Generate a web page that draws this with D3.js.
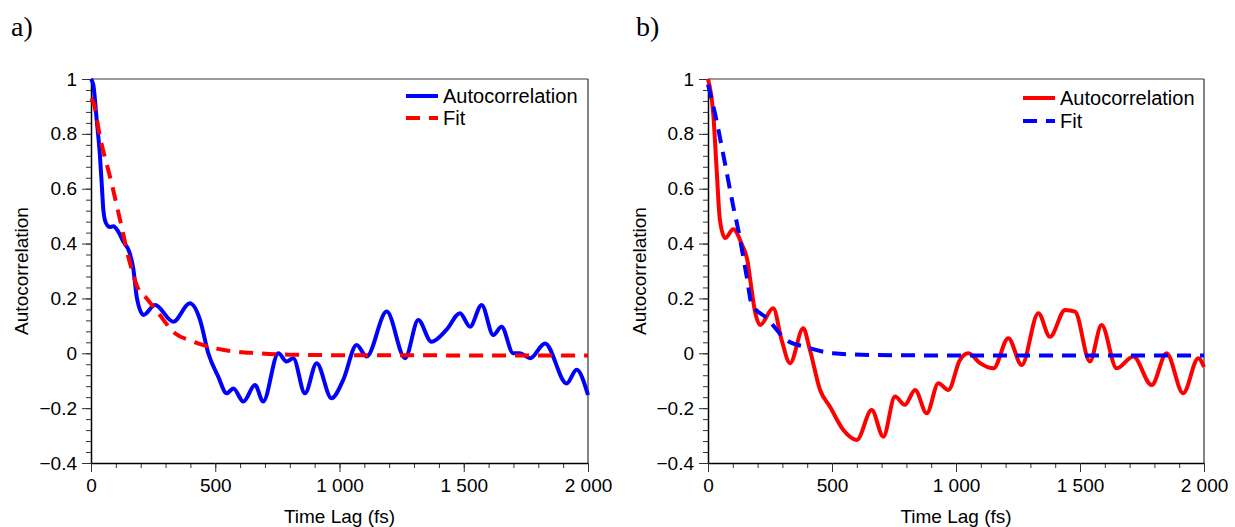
<!DOCTYPE html>
<html>
<head>
<meta charset="utf-8">
<script src="https://cdn.jsdelivr.net/npm/d3@7"></script>
<style>
  html, body { margin: 0; padding: 0; background: #fff; }
  svg { display: block; font-family: "Liberation Sans", Arial, sans-serif; }
</style>
</head>
<body>
<svg id="chart" width="1235" height="527"></svg>
<script>
// ---------- data ----------
const timeA = [0, 9, 23, 36, 43, 50, 60, 76, 90, 110, 130, 154, 170, 185, 211, 258, 331, 398, 439, 472, 512, 546, 573, 613, 660, 693, 754, 787, 814, 861, 908, 968, 1015, 1069, 1109, 1190, 1264, 1317, 1370, 1430, 1485, 1525, 1572, 1619, 1652, 1699, 1726, 1767, 1827, 1914, 1954, 2000];
const autoA = [1.0, 0.98, 0.85, 0.72, 0.62, 0.52, 0.475, 0.46, 0.463, 0.443, 0.407, 0.37, 0.31, 0.2, 0.14, 0.176, 0.115, 0.182, 0.121, 0.0, -0.085, -0.146, -0.128, -0.176, -0.116, -0.176, 0.0, -0.03, -0.018, -0.146, -0.036, -0.164, -0.097, 0.03, -0.012, 0.152, -0.018, 0.121, 0.042, 0.085, 0.146, 0.097, 0.176, 0.067, 0.097, 0.0, 0.0, -0.018, 0.036, -0.11, -0.06, -0.152];
const fitTimeA = [0, 9, 36, 83, 117, 157, 190, 224, 271, 338, 405, 512, 673, 800, 1000, 2000];
const fitA = [0.93, 0.917, 0.79, 0.62, 0.486, 0.328, 0.235, 0.2, 0.146, 0.073, 0.045, 0.016, 0.0, -0.005, -0.007, -0.008];

const timeB = [0, 21, 35, 48, 69, 102, 135, 161, 170, 190, 210, 263, 297, 331, 384, 411, 452, 492, 546, 600, 660, 707, 754, 794, 835, 882, 929, 969, 1016, 1050, 1097, 1151, 1211, 1265, 1332, 1379, 1440, 1480, 1540, 1587, 1648, 1715, 1789, 1849, 1916, 1977, 2000];
const autoB = [1.0, 0.875, 0.668, 0.486, 0.42, 0.452, 0.40, 0.328, 0.27, 0.15, 0.103, 0.164, 0.048, -0.036, 0.091, 0.012, -0.134, -0.195, -0.28, -0.316, -0.207, -0.304, -0.158, -0.188, -0.134, -0.219, -0.109, -0.134, -0.024, 0.0, -0.036, -0.055, 0.055, -0.043, 0.146, 0.06, 0.158, 0.152, -0.03, 0.103, -0.055, -0.012, -0.116, 0.0, -0.146, -0.018, -0.05];
const fitTimeB = [0, 28, 69, 102, 122, 156, 176, 237, 317, 398, 505, 653, 1000, 2000];
const fitB = [0.98, 0.875, 0.69, 0.535, 0.45, 0.28, 0.18, 0.128, 0.048, 0.022, 0.0, -0.006, -0.008, -0.008];

const xTicks = [0, 500, 1000, 1500, 2000];
const xTickLabels = ["0", "500", "1 000", "1 500", "2 000"];
const yTicks = [-0.4, -0.2, 0, 0.2, 0.4, 0.6, 0.8, 1];
const yTickLabels = ["\u22120.4", "\u22120.2", "0", "0.2", "0.4", "0.6", "0.8", "1"];
const seriesNames = ["Autocorrelation", "Fit"];
const panelLabels = ["a)", "b)"];

// ---------- drawing ----------
const svg = d3.select("#chart");
const FONT = 19;
const SANS = "'Liberation Sans', Arial, sans-serif";
const SERIF = "'Liberation Serif', 'Times New Roman', serif";

function drawPanel(opt) {
  const x = d3.scaleLinear().domain([0, 2000]).range([opt.x0, opt.x1]);
  const y = d3.scaleLinear().domain([-0.4, 1]).range([463, 79]);
  const g = svg.append("g");

  // top and right frame
  g.append("line").attr("x1", opt.x0).attr("x2", opt.x1).attr("y1", y(1)).attr("y2", y(1))
    .attr("stroke", "#7a7a7a").attr("stroke-width", 1.5);
  g.append("line").attr("x1", opt.x1).attr("x2", opt.x1).attr("y1", y(1)).attr("y2", y(-0.4))
    .attr("stroke", "#333").attr("stroke-width", 1.2);

  // minor ticks
  const minorY = d3.range(-0.4, 1.0001, 0.04);
  const minorX = d3.range(0, 2000.1, 100);
  g.append("g").attr("transform", `translate(${opt.x0},0)`)
    .call(d3.axisLeft(y).tickValues(minorY).tickSize(5).tickFormat(""))
    .call(s => s.select(".domain").remove())
    .call(s => s.selectAll("line").attr("stroke", "#333"));
  g.append("g").attr("transform", `translate(0,${y(-0.4)})`)
    .call(d3.axisBottom(x).tickValues(minorX).tickSize(5).tickFormat(""))
    .call(s => s.select(".domain").remove())
    .call(s => s.selectAll("line").attr("stroke", "#333"));

  // major axes
  const ya = g.append("g").attr("transform", `translate(${opt.x0},0)`)
    .call(d3.axisLeft(y).tickValues(yTicks).tickSize(9).tickSizeOuter(0).tickPadding(5)
      .tickFormat((d, i) => yTickLabels[i]));
  ya.select(".domain").attr("stroke", "#000").attr("stroke-width", 1.5);
  ya.selectAll("line").attr("stroke", "#333");
  ya.selectAll("text").attr("font-size", FONT).attr("fill", "#000").style("font-family", SANS);

  const xa = g.append("g").attr("transform", `translate(0,${y(-0.4)})`)
    .call(d3.axisBottom(x).tickValues(xTicks).tickSize(9).tickSizeOuter(0).tickPadding(7)
      .tickFormat((d, i) => xTickLabels[i]));
  xa.select(".domain").attr("stroke", "#000").attr("stroke-width", 1.5);
  xa.selectAll("line").attr("stroke", "#333");
  xa.selectAll("text").attr("font-size", FONT).attr("fill", "#000").style("font-family", SANS);

  // axis titles
  g.append("text").attr("x", (opt.x0 + opt.x1) / 2).attr("y", 523)
    .attr("text-anchor", "middle").attr("font-size", FONT).style("font-family", SANS)
    .text("Time Lag (fs)");
  g.append("text").attr("transform", `translate(${opt.yTitleX},${y(0.3)}) rotate(-90)`)
    .attr("text-anchor", "middle").attr("font-size", FONT).style("font-family", SANS)
    .text("Autocorrelation");

  // panel label
  g.append("text").attr("x", opt.labelX).attr("y", 36)
    .style("font-family", SERIF).attr("font-size", 28).text(opt.label);

  // lines
  const line = d3.line().x(d => x(d[0])).y(d => y(d[1])).curve(d3.curveMonotoneX);
  const autoData = opt.t.map((t, i) => [t, opt.v[i]]);
  const fitData = opt.ft.map((t, i) => [t, opt.fv[i]]);
  g.append("path").datum(autoData).attr("d", line).attr("fill", "none")
    .attr("stroke", opt.autoColor).attr("stroke-width", 4).attr("stroke-linejoin", "round");
  g.append("path").datum(fitData).attr("d", line).attr("fill", "none")
    .attr("stroke", opt.fitColor).attr("stroke-width", 4).attr("stroke-dasharray", "14,9");

  // legend
  const lg = g.append("g");
  const colors = [opt.autoColor, opt.fitColor];
  seriesNames.forEach((name, i) => {
    const ly = opt.legY + i * opt.legDy;
    lg.append("line").attr("x1", opt.legX).attr("x2", opt.legX + 32).attr("y1", ly).attr("y2", ly)
      .attr("stroke", colors[i]).attr("stroke-width", 4)
      .attr("stroke-dasharray", i === 1 ? "14,9" : null);
    lg.append("text").attr("x", opt.legX + 37).attr("y", ly).attr("dy", "0.35em")
      .attr("font-size", 20).style("font-family", SANS).text(name);
  });
}

drawPanel({ x0: 91, x1: 588, t: timeA, v: autoA, ft: fitTimeA, fv: fitA,
  autoColor: "#0000ff", fitColor: "#ff0000", label: panelLabels[0], labelX: 11,
  yTitleX: 28, legX: 406, legY: 96, legDy: 22 });
drawPanel({ x0: 708, x1: 1204, t: timeB, v: autoB, ft: fitTimeB, fv: fitB,
  autoColor: "#ff0000", fitColor: "#0000ff", label: panelLabels[1], labelX: 636,
  yTitleX: 646, legX: 1023, legY: 98, legDy: 23 });
</script>
</body>
</html>
